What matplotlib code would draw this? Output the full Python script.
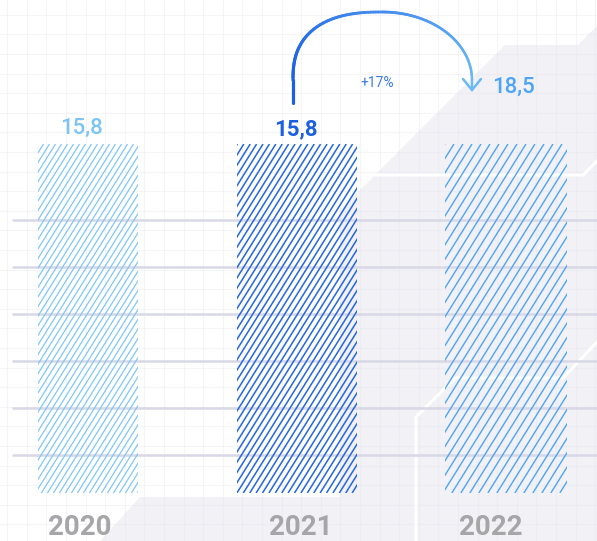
import numpy as np
import matplotlib
matplotlib.use("Agg")
import matplotlib.pyplot as plt
from matplotlib.patches import Polygon
from matplotlib.collections import LineCollection
from matplotlib.transforms import IdentityTransform, blended_transform_factory
from matplotlib.colors import to_rgb

plt.rcParams['font.family'] = ['Roboto', 'DejaVu Sans']

# dados
years = ['2020', '2021', '2022']
values = [15.8, 15.8, 18.5]
value_labels = ['15,8', '15,8', '18,5']
growth_label = '+17%'

bar_colors = ['#7cc4f6', '#2566e4', '#4ea5f5']
label_colors = ['#7cc4f6', '#1c5fe0', '#4ea5f5']

W, H = 597, 541
fig = plt.figure(figsize=(W / 100, H / 100), dpi=100)
fig.patch.set_facecolor('white')

# fundo decorativo em coordenadas de pixel
bg = fig.add_axes([0, 0, 1, 1], zorder=0)
bg.set_xlim(0, W)
bg.set_ylim(H, 0)
bg.axis('off')

bg.add_patch(Polygon([(100, 541), (140, 497), (340, 497), (340, 210), (357, 193),
                      (505, 45), (578, 45), (597, 26), (597, 541)],
                     closed=True, facecolor='#f1f1f6', edgecolor='none', zorder=1))

# grade fina de fundo
for gx in np.arange(7.2, W, 19.6):
    bg.axvline(gx, color='#e6e6ee', lw=0.8, alpha=0.4, zorder=2)
for gy in np.arange(14.8, H, 19.6):
    bg.axhline(gy, color='#e6e6ee', lw=0.8, alpha=0.4, zorder=2)

# linhas brancas
bg.plot([363, 583, 597], [175, 175, 161], color='white', lw=2.2, zorder=3)
bg.plot([416, 416, 455, 563, 597], [541, 417, 378, 378, 342], color='white', lw=2.2, zorder=3)

# linhas horizontais
for k in range(6):
    bg.plot([12, W], [220 + 47 * k] * 2, color='#d8d8e6', lw=1.8, zorder=4,
            solid_capstyle='butt')

# seta curva com degradê
def superellipse(cx, cy, rx, ry, n, t):
    c, s = np.cos(t), np.sin(t)
    return cx + rx * np.sign(c) * np.abs(c) ** (2 / n), cy - ry * np.abs(s) ** (2 / n)

cx, cy, rx, ry = 382.5, 80, 89.5, 68
tl = np.linspace(np.pi, np.pi / 2, 80)
tr = np.linspace(np.pi / 2, 0, 80)
xl, yl = superellipse(cx, cy, rx, ry, 2.5, tl)
xr, yr = superellipse(cx, cy, rx, ry, 2.0, tr)
px = np.concatenate([[cx - rx], xl, xr[1:], [cx + rx]])
py = np.concatenate([[103], yl, yr[1:], [89]])
pts = np.column_stack([px, py])
segs = np.stack([pts[:-1], pts[1:]], axis=1)
c0, c1 = np.array(to_rgb('#1a5fe6')), np.array(to_rgb('#6cb9f7'))
f = np.linspace(0, 1, len(segs))[:, None]
cols = c0 * (1 - f) + c1 * f
lws = np.linspace(2.3, 1.7, len(segs))
bg.add_collection(LineCollection(segs, colors=cols, linewidths=lws, zorder=6,
                                 capstyle='round'))
bg.plot([cx + rx - 9, cx + rx, cx + rx + 9], [79, 90, 79], color='#6cb9f7', lw=1.8,
        zorder=6, solid_capstyle='round', solid_joinstyle='miter')
bg.text(377, 83, growth_label, color='#3d7be6', fontsize=10, ha='center', va='center',
        zorder=7)

# eixo principal com as barras
ax = fig.add_axes([0, 0, 1, 1], zorder=1)
ax.patch.set_alpha(0)
ax.axis('off')
k = 349 / 18.5
ax.set_xlim(-88 / 209, (W - 88) / 209)
ax.set_ylim(-48 / k, (H - 48) / k)

x = np.arange(len(years))
# no gráfico original todas as barras têm a mesma altura
bars = ax.bar(x, [max(values)] * len(values), width=[0.483, 0.57, 0.584],
              facecolor='none', edgecolor='none', linewidth=0)

spacing = [6.0, 6.4, 9.0]
hatch_lw = [0.85, 1.1, 1.0]
for b, col, s, lw in zip(bars, bar_colors, spacing, hatch_lw):
    (x0, y0), (x1, y1) = ax.transData.transform([(b.get_x(), 0),
                                                 (b.get_x() + b.get_width(), b.get_height())])
    dx = (y1 - y0) / 1.6
    lines = [[(c, y0), (c + dx, y1)] for c in np.arange(x0 - dx, x1 + s, s)]
    lc = LineCollection(lines, colors=col, linewidths=lw, transform=IdentityTransform(),
                        zorder=3)
    ax.add_collection(lc)
    lc.set_clip_path(b.get_path(), b.get_transform())

# rótulos de valor
offsets = [(-7, 10), (-1, 9), (7, 51)]
for i, (lab, col, (ox, oy)) in enumerate(zip(value_labels, label_colors, offsets)):
    ax.annotate(lab, (x[i], max(values)), xytext=(ox * 0.72, oy * 0.72),
                textcoords='offset points', ha='center', va='baseline',
                fontsize=16, color=col, fontweight='bold' if i == 1 else 'medium')

# anos
trans = blended_transform_factory(ax.transData, fig.transFigure)
year_dx = [-8 / 209, 4 / 209, -15 / 209]
for i, y in enumerate(years):
    ax.text(x[i] + year_dx[i], 6 / H, y, transform=trans, ha='center', va='baseline',
            fontsize=20, fontweight='bold', color='#a6a6a9')

fig.savefig('out.png', dpi=100)
